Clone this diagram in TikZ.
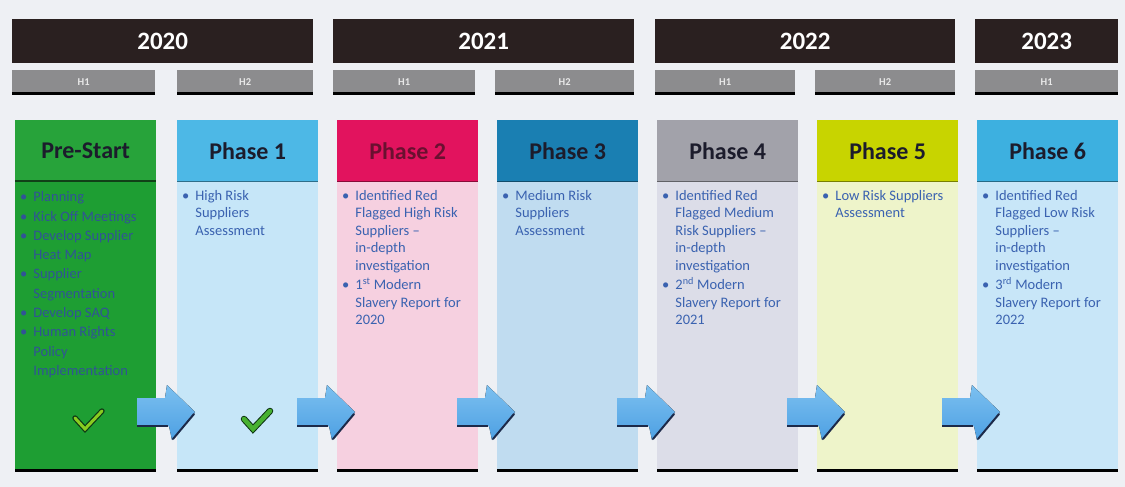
\documentclass[tikz,border=0pt]{standalone}
\usepackage{fontspec}
\setmainfont{Carlito}
\definecolor{bgc}{HTML}{EEF0F4}
\definecolor{yearc}{HTML}{2A2020}
\definecolor{halfc}{HTML}{8C8C8E}
\definecolor{titlec}{HTML}{1C1C2C}
\definecolor{bodyc}{HTML}{3A62B0}
\definecolor{psH}{HTML}{27A33A}
\definecolor{psB}{HTML}{1E9E33}
\definecolor{p1H}{HTML}{4DB8E6}
\definecolor{p1B}{HTML}{C6E6F8}
\definecolor{p2H}{HTML}{E2135E}
\definecolor{p2B}{HTML}{F6D0E0}
\definecolor{p3H}{HTML}{1A7FB2}
\definecolor{p3B}{HTML}{C0DCF0}
\definecolor{p4H}{HTML}{A2A2AA}
\definecolor{p4B}{HTML}{DCDDE8}
\definecolor{p5H}{HTML}{C8D400}
\definecolor{p5B}{HTML}{EEF4CA}
\definecolor{p6H}{HTML}{3DB0E0}
\definecolor{p6B}{HTML}{C8E6F8}
\definecolor{arrowc}{HTML}{4DA0E3}
\definecolor{arrowtop}{HTML}{7CC0F0}
\definecolor{arrowdark}{HTML}{1C2A4A}
\definecolor{p2title}{HTML}{6A1030}
\newcommand{\flowarrow}[1]{%
  \begin{scope}[xshift=#1]
    \fill[top color=arrowtop,bottom color=arrowc] (0,398) -- (28,398) -- (30,385) -- (58,412) -- (35,440) -- (32,426) -- (0,426) -- cycle;
    \draw[line width=2pt, arrowdark] (0,426) -- (31,426);
    \draw[line width=2pt, arrowdark, line cap=round] (36,439) -- (57,414);
  \end{scope}}
\newcommand{\bul}{\textbullet}
\begin{document}
\begin{tikzpicture}[x=1pt,y=-1pt,
  yearbar/.style={fill=yearc, text=white, font=\fontsize{25}{28}\selectfont\bfseries, anchor=north west, inner sep=0pt, minimum height=44pt},
  halfbar/.style={fill=halfc, text=white!80!halfc, font=\fontsize{10.5}{12}\selectfont\bfseries, anchor=north west, inner sep=0pt, minimum height=23pt},
  header/.style={anchor=north west, inner sep=0pt, minimum width=141pt, minimum height=61pt, font=\fontsize{24}{28}\selectfont\bfseries, text=titlec},
  body/.style={anchor=north west, inner sep=0pt, minimum width=141pt, minimum height=289pt},
  bodytext/.style={anchor=north west, inner sep=0pt, text=bodyc, font=\fontsize{14.5}{17.5}\selectfont},
  bline/.style={line width=2.5pt, black},
]
\useasboundingbox (0,0) rectangle (1125,487);
\fill[bgc] (0,0) rectangle (1125,487);

% year bars
\node[yearbar, minimum width=301pt] (y20) at (12,19) {2020};
\node[yearbar, minimum width=301pt] (y21) at (333,19) {2021};
\node[yearbar, minimum width=300pt] (y22) at (655,19) {2022};
\node[yearbar, minimum width=143pt] (y23) at (975,19) {2023};

% half-year bars
\foreach \n/\x/\w/\t in {h1/12/143/H1, h2/177/136/H2, h3/333/142/H1, h4/495/139/H2, h5/655/140/H1, h6/815/140/H2, h7/975/143/H1}{
  \node[halfbar, minimum width=\w pt] (\n) at (\x,70) {\t};
  \draw[bline] (\n.south west) -- (\n.south east);
}

% phase columns
\foreach \n/\x/\hc/\bc/\t in {ps/15/psH/psB/Pre-Start, p1/177/p1H/p1B/Phase 1, p2/337/p2H/p2B/{\textcolor{p2title}{Phase 2}}, p3/497/p3H/p3B/Phase 3, p4/657/p4H/p4B/Phase 4, p5/817/p5H/p5B/Phase 5, p6/977/p6H/p6B/Phase 6}{
  \node[body, fill=\bc] (\n b) at (\x,181) {};
  \node[header, fill=\hc] (\n h) at (\x,120) {\t};
  \draw[line width=1pt, \hc!60!black] (\n h.south west) -- (\n h.south east);
  \draw[bline] (\n b.south west) -- (\n b.south east);
}
\draw[line width=2pt, psH!40!black] (psh.south west) -- (psh.south east);

% body texts
\node[bodytext, font=\fontsize{14.5}{19.3}\selectfont, text=bodyc!85!black] (pst) at ([shift={(5,7)}]psb.north west) {%
  \begin{tabular}{@{}l@{\hspace{6pt}}l@{}}
  \bul & Planning\\
  \bul & Kick Off Meetings\\
  \bul & Develop Supplier\\
       & Heat Map\\
  \bul & Supplier\\
       & Segmentation\\
  \bul & Develop SAQ\\
  \bul & Human Rights\\
       & Policy\\
       & Implementation
  \end{tabular}};
\node[bodytext] (p1t) at ([shift={(5,7)}]p1b.north west) {%
  \begin{tabular}{@{}l@{\hspace{6pt}}l@{}}
  \bul & High Risk\\
       & Suppliers\\
       & Assessment
  \end{tabular}};
\node[bodytext] (p2t) at ([shift={(5,7)}]p2b.north west) {%
  \begin{tabular}{@{}l@{\hspace{6pt}}l@{}}
  \bul & Identified Red\\
       & Flagged High Risk\\
       & Suppliers –\\
       & in-depth\\
       & investigation\\[2pt]
  \bul & 1\textsuperscript{st} Modern\\
       & Slavery Report for\\
       & 2020
  \end{tabular}};
\node[bodytext] (p3t) at ([shift={(5,7)}]p3b.north west) {%
  \begin{tabular}{@{}l@{\hspace{6pt}}l@{}}
  \bul & Medium Risk\\
       & Suppliers\\
       & Assessment
  \end{tabular}};
\node[bodytext] (p4t) at ([shift={(5,7)}]p4b.north west) {%
  \begin{tabular}{@{}l@{\hspace{6pt}}l@{}}
  \bul & Identified Red\\
       & Flagged Medium\\
       & Risk Suppliers –\\
       & in-depth\\
       & investigation\\[2pt]
  \bul & 2\textsuperscript{nd} Modern\\
       & Slavery Report for\\
       & 2021
  \end{tabular}};
\node[bodytext] (p5t) at ([shift={(5,7)}]p5b.north west) {%
  \begin{tabular}{@{}l@{\hspace{6pt}}l@{}}
  \bul & Low Risk Suppliers\\
       & Assessment
  \end{tabular}};
\node[bodytext] (p6t) at ([shift={(5,7)}]p6b.north west) {%
  \begin{tabular}{@{}l@{\hspace{6pt}}l@{}}
  \bul & Identified Red\\
       & Flagged Low Risk\\
       & Suppliers –\\
       & in-depth\\
       & investigation\\[2pt]
  \bul & 3\textsuperscript{rd} Modern\\
       & Slavery Report for\\
       & 2022
  \end{tabular}};

% check marks
\draw[line width=1.2pt, draw=psH!35!black, double=psH!55!yellow, double distance=3pt, line join=miter, line cap=round] (75,418) -- (85,429) -- (102,411);
\draw[line width=1pt, draw=psH!30!black, double=psH!85!yellow, double distance=4.5pt, line join=miter, line cap=round] (244,419) -- (253,429) -- (270,411);

% flow arrows
\flowarrow{137}
\flowarrow{297}
\flowarrow{457}
\flowarrow{617}
\flowarrow{787}
\flowarrow{942}
\end{tikzpicture}
\end{document}
